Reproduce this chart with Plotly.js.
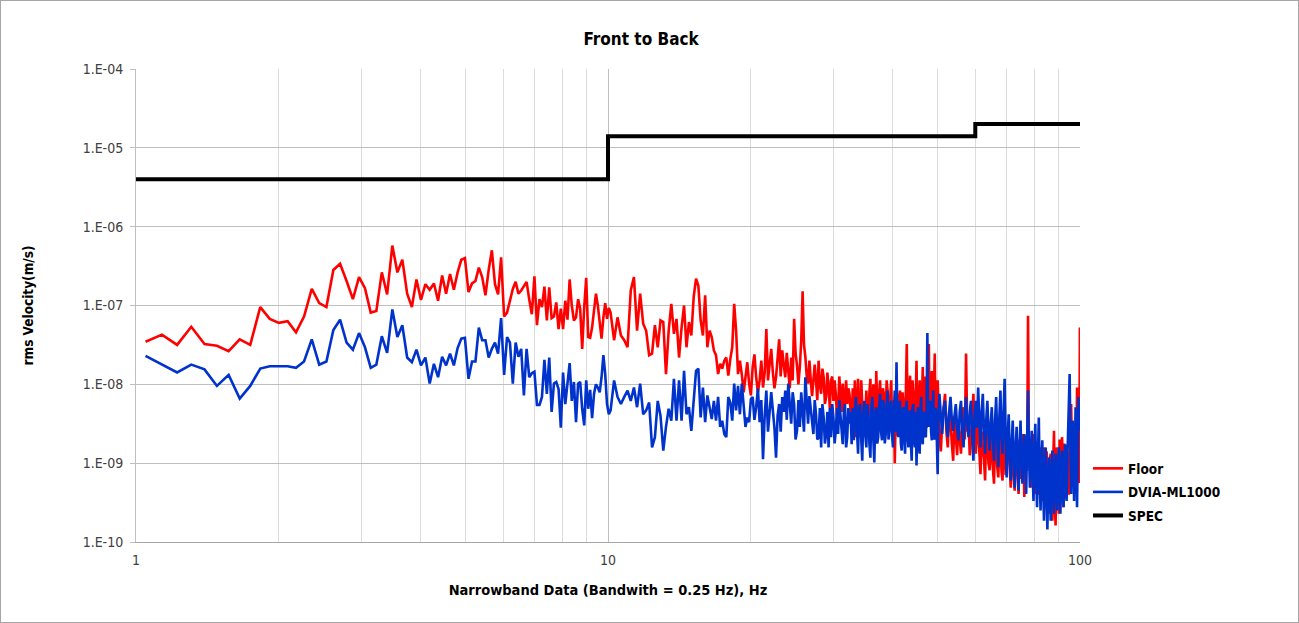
<!DOCTYPE html>
<html>
<head>
<meta charset="utf-8">
<script src="https://cdn.plot.ly/plotly-3.0.1.min.js"></script>
<style>
  html, body { margin: 0; padding: 0; background: #fff; }
  #frame { width: 1299px; height: 623px; box-sizing: border-box; border: 1px solid #a6a6a6; }
  #paper { width: 1297px; height: 621px; }
</style>
</head>
<body>
<div id="frame"><div id="paper"></div></div>
<script>
"use strict"

// analyser bin width, Hz per bin
var binHz = 0.0873;

// the traces are stored in runs of bins: [first bin, bin step]
var runA = [12, 1];
var runB = [116, 2];
var runC = [232, 4];
var runC2 = [234, 4];
var runD = [577, 8];
var runD2 = [581, 8];

// Floor, log10 of rms velocity (m/s)
var floorLogA = [
  -7.46,-7.37,-7.50,-7.27,-7.49,-7.51,-7.58,-7.43,-7.50,-7.02,
  -7.17,-7.22,-7.20,-7.34,-7.14,-6.79,-6.97,-7.02,-6.55,-6.47,
  -6.69,-6.92,-6.64,-6.78,-7.09,-7.07,-6.58,-6.86,-6.24,-6.58,
  -6.42,-6.85,-7.02,-6.67,-6.93,-6.73,-6.80,-6.72,-6.94,-6.62,
  -6.85,-6.60,-6.80,-6.58,-6.42,-6.40,-6.83,-6.72,-6.69,-6.52,
  -6.64,-6.87,-6.55,-6.30,-6.73,-6.86,-6.39,-7.14,-7.09,-6.92,
  -6.79,-6.70,-6.85,-6.81,-6.75,-6.70,-6.92,-7.11,-6.63,-7.25,
  -6.92,-7.02,-6.76,-7.19,-6.77,-7.16,-7.14,-6.96,-7.30,-7.04,
  -7.30,-6.94,-7.18,-6.67,-7.00,-7.19,-7.15,-6.92,-7.04,-7.55,
  -7.02,-6.65,-7.40,-7.41,-7.28,-7.02,-6.85,-7.00,-7.19,-7.42,
  -7.15,-6.97,-7.17,-7.03
];
var floorLogB = [
  -7.09,-7.44,-7.15,-7.38,-7.44,-7.53,-6.81,-6.64,-7.32,-6.85,
  -7.23,-7.32,-7.63,-7.61,-7.25,-7.53,-7.19,-7.21,-7.87,-7.32,
  -6.98,-7.36,-7.17,-7.66,-7.28,-7.00,-7.53,-7.21,-7.38,-6.89,
  -6.66,-6.75,-7.19,-7.38,-6.87,-7.53,-7.32,-7.40,-7.57,-7.63,
  -7.87,-7.74,-7.80,-7.70,-7.66,-7.89,-7.68,-7.53,-6.98,-7.32,
  -7.87,-7.70,-7.87,-8.10,-7.91,-7.72,-7.99,-8.14
];
var floorLogC = [
  -7.78,-7.91,-7.95,-8.04,-7.30,-7.74,-7.85,-7.91,-7.43,-7.57,
  -7.91,-7.83,-7.66,-7.17,-7.76,-7.78,-6.82,-7.65,-7.99,-7.95,
  -7.95,-7.95,-7.70,-8.12,-7.91,-8.16,-8.04,-7.95,-8.21,-8.12,
  -8.33,-8.12,-7.99,-8.21,-8.25,-8.12,-8.54,-8.30,-8.67,-7.93,
  -8.50,-8.25,-8.63,-8.08,-8.42,-7.93,-8.54,-8.16,-7.83,-8.46,
  -7.95,-8.63,-8.12,-8.38,-8.08,-8.54,-7.95,-8.71,-9.00,-8.29,
  -8.54,-8.08,-8.50,-8.25,-8.46,-7.49,-8.33,-7.89,-8.46,-8.12,
  -8.38,-7.70,-8.42,-7.95,-8.46,-7.78,-8.42,-8.16,-8.46,-7.49,
  -8.38,-7.83,-8.33,-7.61,-8.21,-7.95
];
var floorLogC2 = [
  -7.62,-8.10,-7.70,-7.85,-7.95,-7.55,-8.05,-7.70,-7.90,-7.75,
  -7.60,-8.05,-7.95,-7.60,-8.00,-7.45,-7.50,-7.90,-7.70,-8.15,
  -7.75,-8.20,-8.00,-7.80,-8.25,-7.85,-8.30,-7.90,-7.95,-8.40,
  -7.90,-8.35,-8.30,-7.95,-8.05,-8.40,-8.05,-7.95,-8.25,-8.55,
  -7.95,-8.55,-8.20,-8.60,-8.10,-8.45,-8.00,-8.55,-8.30,-8.10,
  -8.40,-8.05,-8.60,-7.95,-8.45,-8.15,-8.50,-8.20,-8.45,-8.65,
  -8.15,-8.60,-8.10,-8.55,-8.05,-8.45,-8.10,-8.55,-7.95,-8.50,
  -8.15,-8.50,-8.05,-8.55,-8.15,-8.50,-7.90,-8.55,-8.10,-8.50,
  -8.10,-8.50,-8.05,-8.45,-8.55,-8.35
];
var floorLogD = [
  -8.67,-8.46,-8.12,-8.80,-8.46,-8.97,-8.63,-8.50,-8.88,-8.29,
  -7.61,-8.46,-8.71,-8.12,-8.88,-8.63,-9.14,-8.80,-9.22,-8.71,
  -9.09,-8.88,-9.26,-8.76,-9.18,-8.63,-9.22,-8.80,-9.05,-8.71,
  -9.31,-8.80,-9.35,-8.67,-9.39,-8.88,-8.63,-9.43,-8.71,-7.13,
  -8.80,-9.31,-8.63,-9.39,-8.88,-9.22,-8.97,-9.48,-8.80,-9.56,
  -9.05,-9.64,-8.88,-9.73,-8.59,-9.79,-9.05,-9.64,-8.88,-8.67,
  -9.56,-9.05,-9.39,-8.97,-9.31,-8.25,-9.14,-8.80,-9.39,-8.04,
  -9.05,-7.28
];
var floorLogD2 = [
  -8.85,-8.30,-8.60,-8.35,-8.75,-8.40,-8.90,-8.70,-8.45,-8.70,
  -8.60,-8.90,-8.40,-8.70,-8.45,-8.85,-8.60,-8.95,-8.55,-9.00,
  -8.60,-9.10,-8.65,-9.05,-8.70,-9.10,-8.60,-9.15,-8.75,-9.05,
  -8.70,-9.20,-8.75,-9.15,-8.70,-9.20,-8.80,-8.65,-9.10,-8.90,
  -8.70,-9.05,-8.80,-9.15,-9.40,-8.80,-9.30,-8.90,-9.40,-8.85,
  -9.45,-8.95,-9.50,-9.00,-9.55,-8.80,-9.45,-8.70,-9.50,-8.90,
  -8.75,-9.45,-8.85,-9.40,-8.70,-8.85,-9.30,-8.60,-9.20,-8.85,
  -9.25
];

// DVIA-ML1000, log10 of rms velocity (m/s)
var dviaLogA = [
  -7.64,-7.75,-7.85,-7.75,-7.81,-8.02,-7.88,-8.18,-8.02,-7.80,
  -7.77,-7.77,-7.77,-7.79,-7.71,-7.43,-7.75,-7.71,-7.31,-7.18,
  -7.47,-7.56,-7.35,-7.53,-7.79,-7.75,-7.39,-7.60,-7.05,-7.40,
  -7.25,-7.66,-7.72,-7.56,-7.76,-7.66,-7.99,-7.74,-7.91,-7.65,
  -7.76,-7.61,-7.76,-7.54,-7.42,-7.41,-7.93,-7.71,-7.71,-7.28,
  -7.44,-7.44,-7.66,-7.55,-7.47,-7.61,-7.16,-7.88,-7.40,-7.47,
  -7.99,-7.47,-7.65,-7.55,-8.14,-7.55,-7.91,-7.86,-7.84,-8.26,
  -8.26,-8.16,-7.69,-8.12,-7.66,-8.35,-7.99,-7.97,-8.06,-8.55,
  -7.85,-8.25,-7.96,-7.73,-8.21,-7.97,-8.48,-7.99,-7.97,-8.31,
  -8.52,-7.95,-8.31,-8.07,-8.43,-8.12,-8.00,-8.04,-8.10,-7.91,
  -7.63,-7.87,-8.25,-8.38
];
var dviaLogB = [
  -8.33,-7.95,-8.16,-8.25,-8.16,-8.08,-8.21,-8.04,-8.29,-7.99,
  -8.38,-8.33,-8.23,-8.80,-8.67,-8.21,-8.40,-8.84,-8.54,-8.31,
  -8.46,-7.93,-8.46,-7.95,-8.46,-7.83,-8.38,-8.29,-8.59,-8.25,
  -7.83,-7.80,-8.42,-8.04,-8.48,-8.14,-8.29,-8.44,-8.21,-8.46,
  -8.16,-8.54,-8.46,-8.63,-8.67,-8.16,-8.23,-8.46,-7.99,-8.33,
  -8.02,-8.38,-7.99,-8.33,-8.54,-8.42,-8.48,-8.19
];
var dviaLogC = [
  -8.16,-8.29,-8.48,-8.95,-8.08,-8.33,-8.33,-8.93,-8.25,-8.16,
  -8.08,-7.99,-8.50,-8.25,-8.59,-8.54,-8.33,-7.91,-8.50,-8.33,
  -8.63,-8.38,-8.67,-8.80,-8.42,-8.63,-8.80,-8.67,-8.42,-8.59,
  -8.63,-8.38,-8.76,-8.25,-8.67,-8.50,-8.76,-8.71,-8.16,-8.88,
  -8.25,-8.97,-8.21,-8.80,-8.38,-8.93,-8.16,-8.99,-8.29,-8.67,
  -8.12,-8.71,-8.25,-8.63,-8.08,-8.59,-8.21,-8.80,-8.08,-7.72,
  -8.67,-8.21,-8.84,-8.29,-8.88,-8.21,-8.80,-8.33,-8.97,-8.25,
  -8.80,-9.03,-8.29,-8.88,-8.16,-8.76,-8.38,-8.67,-7.35,-8.54,
  -8.21,-8.71,-8.08,-8.67,-8.38,-9.14
];
var dviaLogC2 = [
  -8.45,-8.05,-8.20,-8.40,-8.60,-8.10,-8.55,-8.40,-8.60,-8.35,
  -8.45,-8.30,-8.10,-8.70,-8.20,-8.10,-8.60,-8.30,-8.15,-8.45,
  -8.20,-8.70,-8.30,-8.25,-8.75,-8.35,-8.30,-8.25,-8.75,-8.30,
  -8.20,-8.65,-8.35,-8.80,-8.30,-8.35,-8.30,-8.40,-8.60,-8.30,
  -8.70,-8.35,-8.65,-8.25,-8.75,-8.30,-8.70,-8.35,-8.75,-8.30,
  -8.60,-8.20,-8.75,-8.30,-8.70,-8.25,-8.65,-8.35,-8.60,-8.45,
  -8.30,-8.75,-8.35,-8.70,-8.30,-8.65,-8.40,-8.75,-8.30,-8.70,
  -8.35,-8.40,-8.80,-8.30,-8.70,-8.35,-8.65,-8.30,-8.45,-8.30,
  -8.60,-8.30,-8.70,-8.30,-8.75,-8.40
];
var dviaLogD = [
  -8.12,-8.63,-8.21,-8.67,-8.16,-8.59,-8.25,-8.71,-8.21,-8.80,
  -8.16,-8.67,-8.21,-8.97,-8.21,-8.04,-8.80,-8.12,-8.88,-8.21,
  -8.84,-8.29,-8.97,-8.16,-9.05,-8.08,-8.88,-7.93,-9.18,-8.38,
  -9.22,-8.46,-9.31,-8.54,-9.35,-8.46,-9.26,-8.63,-9.39,-8.08,
  -9.31,-8.59,-9.48,-8.50,-9.56,-8.42,-9.60,-8.71,-9.73,-8.80,
  -9.84,-8.93,-9.73,-8.84,-9.64,-8.88,-9.60,-8.80,-9.64,-8.84,
  -9.56,-8.76,-9.48,-8.54,-7.87,-9.39,-8.46,-9.48,-8.29,-9.56,
  -8.16,-8.59
];
var dviaLogD2 = [
  -8.40,-8.30,-8.50,-8.35,-8.45,-8.40,-8.55,-8.35,-8.60,-8.40,
  -8.50,-8.35,-8.65,-8.40,-8.55,-8.45,-8.35,-8.60,-8.45,-8.60,
  -8.50,-8.70,-8.45,-8.70,-8.40,-8.65,-8.35,-8.70,-8.65,-8.90,
  -8.75,-8.95,-8.80,-9.00,-8.80,-8.95,-8.85,-9.05,-8.70,-8.85,
  -8.90,-9.10,-8.90,-9.15,-8.90,-9.20,-9.05,-9.30,-9.10,-9.40,
  -9.20,-9.35,-9.15,-9.30,-9.20,-9.25,-9.10,-9.30,-9.15,-9.20,
  -9.05,-9.15,-8.95,-8.40,-8.70,-8.90,-8.85,-8.95,-8.80,-8.90,
  -8.45
];

// SPEC limit, stepped
var specFreq = [1, 10, 60, 100];
var specLevel = [4e-6, 1.4e-5, 2e-5, 2e-5];

var yTickVals = [1e-10, 1e-9, 1e-8, 1e-7, 1e-6, 1e-5, 1e-4];
var yTickText = ["1.E-10", "1.E-09", "1.E-08", "1.E-07", "1.E-06", "1.E-05", "1.E-04"];
var xTickVals = [1, 10, 100];
var xTickText = ["1", "10", "100"];
var xMinorVals = [2, 3, 4, 5, 6, 7, 8, 9, 20, 30, 40, 50, 60, 70, 80, 90];

var narrow = '"Liberation Sans Narrow", "Arial Narrow", "DejaVu Sans Condensed", sans-serif';

function build_series(runs, logs) {
    var pts = [];
    for (var r = 0; r < runs.length; r++) {
        var start = runs[r][0];
        var step = runs[r][1];
        var vals = logs[r];
        for (var i = 0; i < vals.length; i++) {
            pts.push([start + i * step, vals[i]]);
        }
    }
    pts.sort(function(a, b) { return a[0] - b[0]; });
    var x = [];
    var y = [];
    pts.forEach(function(p) {
        x.push(p[0] * binHz);
        y.push(Math.pow(10, p[1]));
    });
    return {x: x, y: y};
}

var runs = [runA, runB, runC, runC2, runD, runD2];
var floor = build_series(runs, [floorLogA, floorLogB, floorLogC, floorLogC2, floorLogD, floorLogD2]);
var dvia = build_series(runs, [dviaLogA, dviaLogB, dviaLogC, dviaLogC2, dviaLogD, dviaLogD2]);

var traces = [
    {
        x: floor.x, y: floor.y, name: "Floor", type: "scatter", mode: "lines",
        line: {color: "#ff0000", width: 2.6}, legendgroup: "a"
    },
    {
        x: dvia.x, y: dvia.y, name: "DVIA-ML1000", type: "scatter", mode: "lines",
        line: {color: "#0033cc", width: 2.6}, legendgroup: "b"
    },
    {
        x: specFreq, y: specLevel, name: "SPEC", type: "scatter", mode: "lines",
        line: {color: "#000000", width: 4, shape: "hv"}, legendgroup: "c"
    }
];

var layout = {
    width: 1297,
    height: 621,
    margin: {l: 135, r: 218, t: 68, b: 80},
    paper_bgcolor: "#ffffff",
    plot_bgcolor: "#ffffff",
    font: {family: narrow, size: 14, color: "#595959"},
    title: {
        text: "<b>Front to Back</b>",
        font: {family: narrow, size: 17, color: "#000000"},
        x: 0.4935, xanchor: "center",
        y: 0.939, yanchor: "middle"
    },
    showlegend: true,
    legend: {
        x: 1.0085, xanchor: "left",
        y: 0.188, yanchor: "top",
        tracegroupgap: 3,
        font: {family: narrow, size: 13.5, color: "#000000", weight: "bold"},
        bgcolor: "rgba(0,0,0,0)"
    },
    xaxis: {
        type: "log",
        range: [0, 2],
        tickvals: xTickVals,
        ticktext: xTickText,
        ticks: "",
        ticklabelstandoff: 5,
        showgrid: true,
        gridcolor: "#bfbfbf",
        gridwidth: 1,
        showline: true,
        linecolor: "#a6a6a6",
        linewidth: 1,
        zeroline: false,
        tickfont: {family: narrow, size: 14, color: "#404040"},
        minor: {tickvals: xMinorVals, showgrid: true, gridcolor: "#dcdcdc", gridwidth: 1, ticks: ""},
        title: {
            text: "<b>Narrowband Data (Bandwith = 0.25 Hz), Hz</b>",
            font: {family: narrow, size: 14.5, color: "#000000"},
            standoff: 18
        }
    },
    yaxis: {
        type: "log",
        range: [-10, -4],
        tickvals: yTickVals,
        ticktext: yTickText,
        ticks: "outside",
        ticklen: 5,
        tickcolor: "#bfbfbf",
        ticklabelstandoff: 4,
        showgrid: true,
        gridcolor: "#bfbfbf",
        gridwidth: 1,
        showline: true,
        linecolor: "#bfbfbf",
        linewidth: 1,
        zeroline: false,
        tickfont: {family: narrow, size: 14, color: "#404040"},
        title: {
            text: "<b>rms Velocity(m/s)</b>",
            font: {family: narrow, size: 13.5, color: "#000000"},
            standoff: 45
        }
    }
};

Plotly.newPlot("paper", traces, layout, {displayModeBar: false, staticPlot: true});
</script>
</body>
</html>
